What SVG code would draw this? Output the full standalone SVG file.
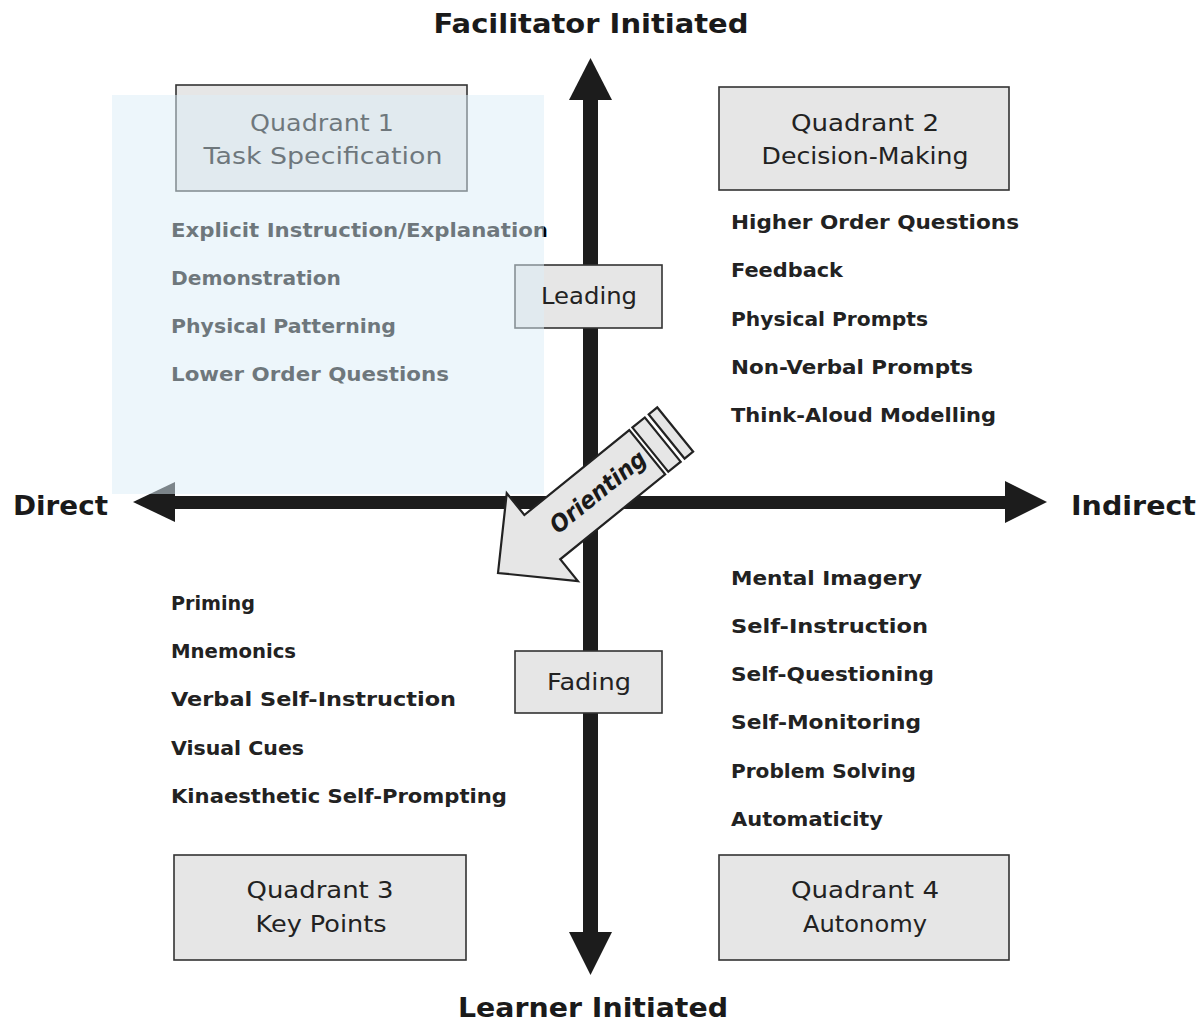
<svg xmlns="http://www.w3.org/2000/svg" width="1201" height="1022" viewBox="0 0 1201 1022">
<style>
.box{fill:#e6e6e6;stroke:#333;stroke-width:1.6}
.bt{font-family:"DejaVu Sans","Liberation Sans",sans-serif;font-size:23px;fill:#222;text-anchor:middle}
.li{font-family:"DejaVu Sans","Liberation Sans",sans-serif;font-size:19px;font-weight:bold;fill:#222}
.hd{font-family:"DejaVu Sans","Liberation Sans",sans-serif;font-size:27px;font-weight:bold;fill:#1a1a1a}
.ax{fill:#1c1c1c}
#quadrant1 text{fill:#000}
</style>
<rect width="1201" height="1022" fill="#fff"/>

<g id="connectors">
  <rect class="ax" x="583" y="98" width="15" height="836"/>
  <polygon class="ax" points="590.5,58 612,100 569,100"/>
  <polygon class="ax" points="590.5,975 612,932 569,932"/>
  <rect class="ax" x="173" y="496" width="834" height="13"/>
  <polygon class="ax" points="133,502 175,482 175,522"/>
  <polygon class="ax" points="1047,502 1005,481 1005,523"/>
</g>

<g id="axis-labels">
  <text class="hd" x="591" y="33" text-anchor="middle" textLength="315" lengthAdjust="spacingAndGlyphs">Facilitator Initiated</text>
  <text class="hd" x="593" y="1017" text-anchor="middle" textLength="270" lengthAdjust="spacingAndGlyphs">Learner Initiated</text>
  <text class="hd" x="13" y="515" textLength="95" lengthAdjust="spacingAndGlyphs">Direct</text>
  <text class="hd" x="1071" y="515" textLength="125" lengthAdjust="spacingAndGlyphs">Indirect</text>
</g>

<g id="quadrant1">
  <rect class="box" x="176" y="85" width="291" height="106"/>
  <text class="bt" x="322" y="131" textLength="144" lengthAdjust="spacingAndGlyphs">Quadrant 1</text>
  <text class="bt" x="323" y="164" textLength="239" lengthAdjust="spacingAndGlyphs">Task Specification</text>
  <text class="li" x="171" y="237" textLength="377" lengthAdjust="spacingAndGlyphs">Explicit Instruction/Explanation</text>
  <text class="li" x="171" y="285" textLength="170" lengthAdjust="spacingAndGlyphs">Demonstration</text>
  <text class="li" x="171" y="333" textLength="225" lengthAdjust="spacingAndGlyphs">Physical Patterning</text>
  <text class="li" x="171" y="381" textLength="278" lengthAdjust="spacingAndGlyphs">Lower Order Questions</text>
</g>

<g id="leading">
  <rect class="box" x="515" y="265" width="147" height="63"/>
</g>

<rect id="highlight" x="112" y="95" width="432" height="399" fill="#dceef8" opacity="0.5"/>

<g id="leading-label">
  <text class="bt" x="589" y="304" textLength="96" lengthAdjust="spacingAndGlyphs">Leading</text>
</g>

<g id="quadrant2">
  <rect class="box" x="719" y="87" width="290" height="103"/>
  <text class="bt" x="865" y="131" textLength="148" lengthAdjust="spacingAndGlyphs">Quadrant 2</text>
  <text class="bt" x="865" y="164" textLength="207" lengthAdjust="spacingAndGlyphs">Decision-Making</text>
  <text class="li" x="731" y="229" textLength="288" lengthAdjust="spacingAndGlyphs">Higher Order Questions</text>
  <text class="li" x="731" y="277" textLength="112" lengthAdjust="spacingAndGlyphs">Feedback</text>
  <text class="li" x="731" y="326" textLength="197" lengthAdjust="spacingAndGlyphs">Physical Prompts</text>
  <text class="li" x="731" y="374" textLength="242" lengthAdjust="spacingAndGlyphs">Non-Verbal Prompts</text>
  <text class="li" x="731" y="422" textLength="265" lengthAdjust="spacingAndGlyphs">Think-Aloud Modelling</text>
</g>

<g id="fading">
  <rect class="box" x="515" y="651" width="147" height="62"/>
  <text class="bt" x="589" y="690" textLength="84" lengthAdjust="spacingAndGlyphs">Fading</text>
</g>

<g id="quadrant3">
  <rect class="box" x="174" y="855" width="292" height="105"/>
  <text class="bt" x="320" y="898" textLength="147" lengthAdjust="spacingAndGlyphs">Quadrant 3</text>
  <text class="bt" x="321" y="932" textLength="131" lengthAdjust="spacingAndGlyphs">Key Points</text>
  <text class="li" x="171" y="610" textLength="84" lengthAdjust="spacingAndGlyphs">Priming</text>
  <text class="li" x="171" y="658" textLength="125" lengthAdjust="spacingAndGlyphs">Mnemonics</text>
  <text class="li" x="171" y="706" textLength="285" lengthAdjust="spacingAndGlyphs">Verbal Self-Instruction</text>
  <text class="li" x="171" y="755" textLength="133" lengthAdjust="spacingAndGlyphs">Visual Cues</text>
  <text class="li" x="171" y="803" textLength="336" lengthAdjust="spacingAndGlyphs">Kinaesthetic Self-Prompting</text>
</g>

<g id="quadrant4">
  <rect class="box" x="719" y="855" width="290" height="105"/>
  <text class="bt" x="865" y="898" textLength="148" lengthAdjust="spacingAndGlyphs">Quadrant 4</text>
  <text class="bt" x="865" y="932" textLength="124" lengthAdjust="spacingAndGlyphs">Autonomy</text>
  <text class="li" x="731" y="585" textLength="191" lengthAdjust="spacingAndGlyphs">Mental Imagery</text>
  <text class="li" x="731" y="633" textLength="197" lengthAdjust="spacingAndGlyphs">Self-Instruction</text>
  <text class="li" x="731" y="681" textLength="203" lengthAdjust="spacingAndGlyphs">Self-Questioning</text>
  <text class="li" x="731" y="729" textLength="190" lengthAdjust="spacingAndGlyphs">Self-Monitoring</text>
  <text class="li" x="731" y="778" textLength="185" lengthAdjust="spacingAndGlyphs">Problem Solving</text>
  <text class="li" x="731" y="826" textLength="152" lengthAdjust="spacingAndGlyphs">Automaticity</text>
</g>

<g id="orienting">
  <g transform="translate(498,573) rotate(141)" fill="#e6e6e6" stroke="#222" stroke-width="2.2" stroke-linejoin="miter">
    <polygon points="0,0 -57,56.5 -57,28.5 -192,28.5 -192,-28.5 -57,-28.5 -57,-56.5"/>
    <rect x="-212" y="-28.5" width="16" height="57"/>
    <rect x="-228" y="-28.5" width="11" height="57"/>
  </g>
  <text transform="translate(598,492) rotate(-39)" x="0" y="8" text-anchor="middle" font-family="DejaVu Sans, Liberation Sans, sans-serif" font-size="24" font-weight="bold" font-style="italic" fill="#1a1a1a" textLength="116" lengthAdjust="spacingAndGlyphs">Orienting</text>
</g>
</svg>
